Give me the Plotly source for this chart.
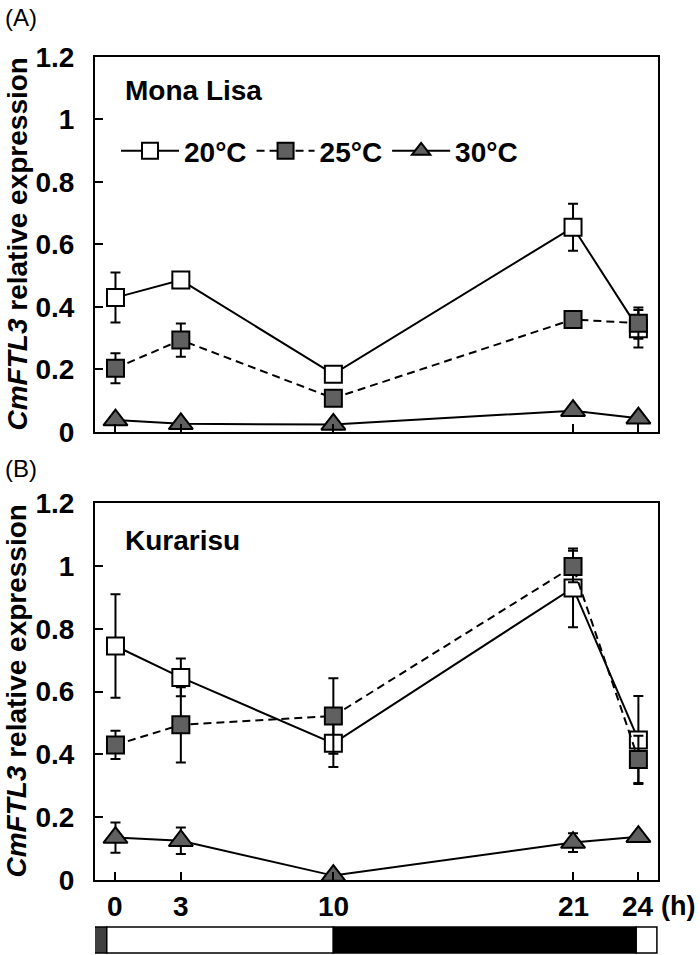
import plotly.graph_objects as go

hours = [0, 3, 10, 21, 24]
tick_labels = ["0", "3", "10", "21", "24"]
y_ticks = [0, 0.2, 0.4, 0.6, 0.8, 1.0, 1.2]
temps = ["20°C", "25°C", "30°C"]

# Panel A: Mona Lisa
a_20 = [0.43, 0.486, 0.185, 0.655, 0.33]
a_20_err = [0.08, 0.0, 0.0, 0.075, 0.06]
a_25 = [0.204, 0.294, 0.108, 0.36, 0.348]
a_25_err = [0.048, 0.053, 0.0, 0.02, 0.05]
a_30 = [0.038, 0.026, 0.024, 0.068, 0.044]
a_30_err = [0.0, 0.0, 0.0, 0.0, 0.0]

# Panel B: Kurarisu
b_20 = [0.745, 0.645, 0.435, 0.93, 0.446]
b_20_err = [0.165, 0.06, 0.075, 0.125, 0.14]
b_25 = [0.43, 0.494, 0.522, 0.998, 0.384]
b_25_err = [0.045, 0.12, 0.12, 0.05, 0.075]
b_30 = [0.135, 0.125, 0.014, 0.119, 0.138]
b_30_err = [0.048, 0.042, 0.0, 0.03, 0.0]

# light/dark schedule bar (hours)
phase_start = [-1.1, -0.4, 10, 23.9]
phase_end = [-0.4, 10, 23.9, 24.85]
phase_color = ["#404040", "white", "black", "white"]

FONT = "Liberation Sans"
GRAY = "#606060"

styles = {
    "20°C": dict(symbol="square", fill="white", dash="solid", size=17),
    "25°C": dict(symbol="square", fill=GRAY, dash="8px,5px", size=17),
    "30°C": dict(symbol="triangle-up", fill=GRAY, dash="solid", size=21),
}

fig = go.Figure()

panels = [
    ("x", "y", [a_20, a_25, a_30], [a_20_err, a_25_err, a_30_err], True),
    ("x2", "y2", [b_20, b_25, b_30], [b_20_err, b_25_err, b_30_err], False),
]
for xa, ya, series, errs, show in panels:
    for name, vals, err in zip(temps, series, errs):
        st = styles[name]
        fig.add_trace(go.Scatter(
            x=hours, y=vals, xaxis=xa, yaxis=ya, name=name,
            mode="lines+markers", showlegend=show, cliponaxis=False,
            line=dict(color="black", width=2, dash=st["dash"]),
            marker=dict(symbol=st["symbol"], size=st["size"], color=st["fill"],
                        line=dict(color="black", width=2)),
            error_y=dict(type="data", array=err, visible=True, color="black",
                         thickness=2, width=5),
        ))

BOLD = dict(family=FONT, size=28, color="black", weight="bold")
axis_common = dict(
    showline=True, linecolor="black", linewidth=2, mirror=True,
    ticks="inside", tickcolor="black", tickwidth=2, ticklen=8,
    showgrid=False, zeroline=False, tickfont=BOLD,
)
xr = [-0.94, 24.9]
fig.update_layout(
    width=700, height=955,
    margin=dict(l=95, r=42, t=57, b=75),
    plot_bgcolor="white", paper_bgcolor="white",
    xaxis=dict(domain=[0, 1], anchor="y", range=xr, tickvals=hours,
               showticklabels=False, **axis_common),
    yaxis=dict(domain=[0.5444, 1], anchor="x", range=[0, 1.2], tickvals=y_ticks,
               ticklabelstandoff=13, **axis_common),
    xaxis2=dict(domain=[0, 1], anchor="y2", range=xr, tickvals=hours,
                showticklabels=False, **axis_common),
    yaxis2=dict(domain=[0, 0.458], anchor="x2", range=[0, 1.2], tickvals=y_ticks,
                ticklabelstandoff=13, **axis_common),
    legend=dict(orientation="h", x=0.0373, y=0.8857, xref="paper", yref="paper",
                xanchor="left", yanchor="middle", bgcolor="rgba(0,0,0,0)",
                font=BOLD, itemwidth=58, tracegroupgap=0),
    showlegend=True,
)

# x tick labels of the bottom panel
for h, lab in zip(hours, tick_labels):
    fig.add_annotation(text=lab, xref="x2", yref="paper", x=h, y=-0.0316,
                       xanchor="center", yanchor="middle", showarrow=False, font=BOLD)
fig.add_annotation(text="(h)", xref="paper", yref="paper", x=1.0675, y=-0.0316,
                   xanchor="right", yanchor="middle", showarrow=False,
                   font=dict(family=FONT, size=27, color="black", weight="bold"),
                   borderpad=0)

for s, e, c in zip(phase_start, phase_end, phase_color):
    fig.add_shape(type="rect", xref="x2", yref="paper", x0=s, x1=e,
                  y0=-0.0887, y1=-0.0571, fillcolor=c,
                  line=dict(color="black", width=1.5))

fig.add_annotation(text="Mona Lisa", xref="paper", yref="paper", x=0.0495, y=0.9599,
                   xanchor="left", yanchor="middle", showarrow=False, font=BOLD)
fig.add_annotation(text="Kurarisu", xref="paper", yref="paper", x=0.0495, y=0.4131,
                   xanchor="left", yanchor="middle", showarrow=False, font=BOLD)
for lab, yc in [("(A)", 1.0474), ("(B)", 0.4994)]:
    fig.add_annotation(text=lab, xref="paper", yref="paper", x=-0.163, y=yc,
                       xanchor="left", yanchor="middle", showarrow=False,
                       font=dict(family=FONT, size=24, color="black"))
title_txt = "<i>CmFTL3</i> relative expression"
for yc in [0.7722, 0.229]:
    fig.add_annotation(text=title_txt, xref="paper", yref="paper", x=-0.1385, y=yc,
                       xanchor="center", yanchor="middle", showarrow=False,
                       textangle=-90, font=BOLD)

fig.write_html("out.html", config={"displayModeBar": False},
               post_script="document.body.style.margin='0';")
